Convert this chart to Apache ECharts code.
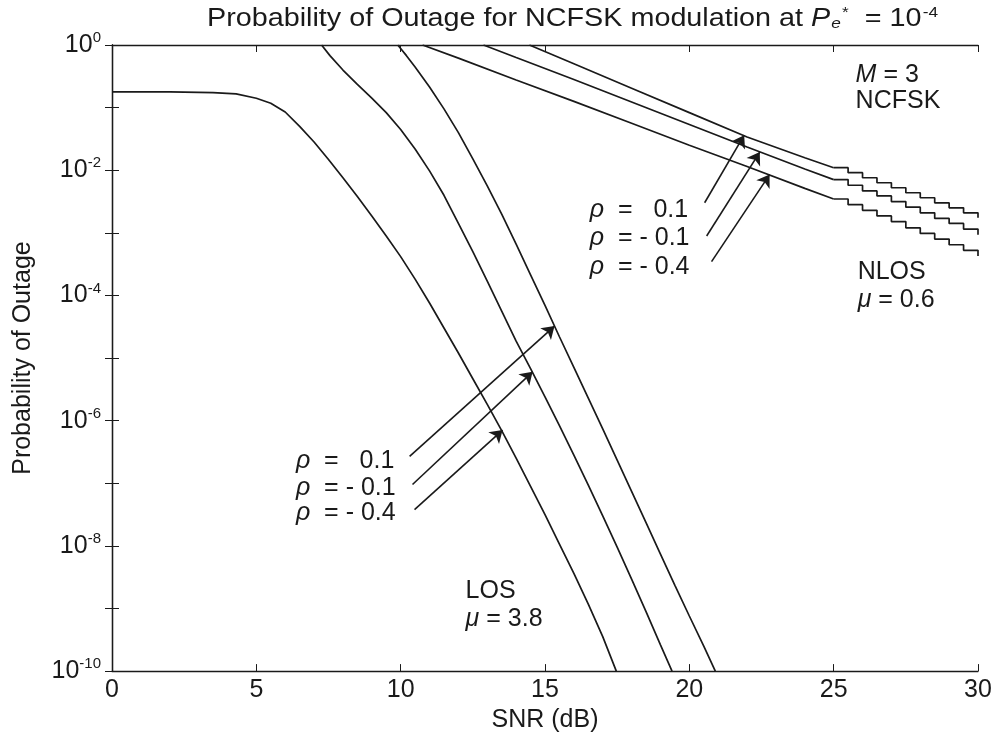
<!DOCTYPE html>
<html>
<head>
<meta charset="utf-8">
<script src="https://cdn.jsdelivr.net/npm/echarts@6/dist/echarts.min.js"></script>
<style>
  html, body { margin: 0; padding: 0; background: #ffffff; }
  #chart { width: 998px; height: 738px; }
</style>
</head>
<body>
<div id="chart"></div>
<script>
// SNR axis ticks (dB) and probability decades
const snrTicks = [0, 5, 10, 15, 20, 25, 30];
const decadeExponents = [0, -1, -2, -3, -4, -5, -6, -7, -8, -9, -10];

// LOS, mu = 3.8 : SNR (dB) and log10 of outage probability
const losSnrRhoNeg04 = [0, 2, 3.5, 4.3, 5, 5.5, 6, 6.5, 7, 7.5, 8, 8.5, 9, 9.5, 10, 10.5, 11, 11.5, 12, 12.5, 13, 13.5, 14, 14.5, 15, 15.5, 16, 16.5, 17, 17.47];
const losLogRhoNeg04 = [-0.75, -0.75, -0.76, -0.78, -0.85, -0.93, -1.07, -1.30, -1.55, -1.83, -2.12, -2.42, -2.73, -3.05, -3.38, -3.74, -4.12, -4.52, -4.92, -5.33, -5.74, -6.16, -6.60, -7.05, -7.50, -7.97, -8.44, -8.93, -9.45, -10.0];

const losSnrRhoNeg01 = [7.26, 7.55, 8, 8.5, 9, 9.5, 10, 10.5, 11, 11.5, 12, 12.5, 13, 13.5, 14, 14.5, 15, 15.5, 16, 16.5, 17, 17.5, 18, 18.5, 19, 19.4];
const losLogRhoNeg01 = [0, -0.17, -0.40, -0.63, -0.85, -1.08, -1.35, -1.66, -2.01, -2.40, -2.85, -3.30, -3.77, -4.25, -4.73, -5.17, -5.62, -6.08, -6.55, -7.03, -7.52, -8.02, -8.53, -9.05, -9.58, -10.0];

const losSnrRhoPos01 = [9.9, 10.2, 10.5, 11, 11.5, 12, 12.5, 13, 13.5, 14, 14.5, 15, 15.5, 16, 16.5, 17, 17.5, 18, 18.5, 19, 19.5, 20, 20.5, 20.9];
const losLogRhoPos01 = [0, -0.17, -0.35, -0.67, -1.02, -1.40, -1.82, -2.25, -2.70, -3.18, -3.67, -4.16, -4.66, -5.15, -5.64, -6.13, -6.63, -7.13, -7.63, -8.13, -8.63, -9.12, -9.60, -10.0];

// NLOS, mu = 0.6 : smooth part up to 25 dB, then the stepped tail
const nlosSnrRhoPos01 = [14.46, 16, 18, 20, 22, 24, 25];
const nlosLogRhoPos01 = [0, -0.30, -0.69, -1.08, -1.47, -1.80, -1.96];
const nlosSnrRhoNeg01 = [12.87, 14, 16, 18, 20, 22, 24, 25];
const nlosLogRhoNeg01 = [0, -0.20, -0.55, -0.91, -1.27, -1.63, -1.98, -2.15];
const nlosSnrRhoNeg04 = [10.76, 12, 14, 16, 18, 20, 22, 24, 25];
const nlosLogRhoNeg04 = [0, -0.21, -0.56, -0.90, -1.25, -1.60, -1.94, -2.29, -2.46];

const nlosTailSnr = [25, 25.5, 26, 26.5, 27, 27.5, 28, 28.5, 29, 29.5, 30];
const nlosTailLogRhoPos01 = [-1.96, -2.04, -2.12, -2.20, -2.28, -2.36, -2.44, -2.52, -2.60, -2.68, -2.76];
const nlosTailLogRhoNeg01 = [-2.15, -2.24, -2.33, -2.41, -2.50, -2.59, -2.68, -2.77, -2.85, -2.94, -3.03];
const nlosTailLogRhoNeg04 = [-2.46, -2.55, -2.64, -2.73, -2.82, -2.92, -3.01, -3.10, -3.19, -3.28, -3.37];

// Annotation text and arrows, placed in data space (SNR dB, log10 P)
const noteTexts = [
  { t: '{i|M} = 3', x: 25.76, y: -0.48 },
  { t: 'NCFSK', x: 25.76, y: -0.90 },
  { t: '{i|ρ}  =   0.1', x: 16.55, y: -2.63 },
  { t: '{i|ρ}  = - 0.1', x: 16.55, y: -3.09 },
  { t: '{i|ρ}  = - 0.4', x: 16.55, y: -3.54 },
  { t: 'NLOS', x: 25.83, y: -3.62 },
  { t: '{i|μ} = 0.6', x: 25.83, y: -4.07 },
  { t: '{i|ρ}  =   0.1', x: 6.37, y: -6.65 },
  { t: '{i|ρ}  = - 0.1', x: 6.37, y: -7.07 },
  { t: '{i|ρ}  = - 0.4', x: 6.37, y: -7.47 },
  { t: 'LOS', x: 12.25, y: -8.72 },
  { t: '{i|μ} = 3.8', x: 12.25, y: -9.17 }
];
const arrowFrom = [[20.53, -2.52], [20.60, -3.05], [20.77, -3.46], [10.31, -6.57], [10.41, -7.02], [10.48, -7.42]];
const arrowTo = [[21.90, -1.44], [22.44, -1.71], [22.78, -2.07], [15.33, -4.49], [14.57, -5.22], [13.53, -6.15]];

const chartTitle = 'Probability of Outage for NCFSK modulation at {i|P}{sub|e}{sup|*}  = 10{sup|-4}';

const FONT = '"Liberation Sans", Arial, Helvetica, sans-serif';
const INK = '#1a1a1a';
const FS = 25;

function pts(xs, logs) {
  return xs.map((x, i) => [x, Math.pow(10, logs[i])]);
}

function curve(name, xs, logs, step) {
  return {
    name: name,
    type: 'line',
    xAxisIndex: 0,
    yAxisIndex: 0,
    data: pts(xs, logs),
    step: step || false,
    showSymbol: false,
    smooth: false,
    clip: true,
    silent: true,
    lineStyle: { color: INK, width: 1.7 },
    z: 3
  };
}

const series = [
  curve('LOS rho=-0.4', losSnrRhoNeg04, losLogRhoNeg04),
  curve('LOS rho=-0.1', losSnrRhoNeg01, losLogRhoNeg01),
  curve('LOS rho=0.1', losSnrRhoPos01, losLogRhoPos01),
  curve('NLOS rho=0.1', nlosSnrRhoPos01, nlosLogRhoPos01),
  curve('NLOS rho=-0.1', nlosSnrRhoNeg01, nlosLogRhoNeg01),
  curve('NLOS rho=-0.4', nlosSnrRhoNeg04, nlosLogRhoNeg04),
  curve('NLOS rho=0.1 tail', nlosTailSnr, nlosTailLogRhoPos01, 'end'),
  curve('NLOS rho=-0.1 tail', nlosTailSnr, nlosTailLogRhoNeg01, 'end'),
  curve('NLOS rho=-0.4 tail', nlosTailSnr, nlosTailLogRhoNeg04, 'end')
];

// arrows as mark lines on the first curve
series[0].markLine = {
  silent: true,
  symbol: ['none', 'arrow'],
  symbolSize: 12,
  label: { show: false },
  lineStyle: { color: INK, width: 1.6, type: 'solid' },
  data: arrowFrom.map((a, i) => [
    { coord: [a[0], Math.pow(10, a[1])] },
    { coord: [arrowTo[i][0], Math.pow(10, arrowTo[i][1])] }
  ])
};

const axisText = { fontFamily: FONT, fontSize: FS, color: INK };
const frameLine = { show: true, lineStyle: { color: INK, width: 1.3 } };
const innerTick = { show: true, inside: true, length: 7, lineStyle: { color: INK, width: 1 } };

function yLabel(v) {
  const e = Math.round(Math.log10(v));
  if (e % 2 !== 0) return '';
  return '10{s|' + e + '}';
}

const option = {
  backgroundColor: '#ffffff',
  animation: false,
  grid: { left: 112, right: 20, top: 45, bottom: 66, containLabel: false },
  xAxis: [
    {
      type: 'value', min: snrTicks[0], max: snrTicks[snrTicks.length - 1], interval: 5,
      name: 'SNR (dB)', nameLocation: 'middle', nameGap: 33,
      nameTextStyle: axisText,
      axisLine: frameLine, axisTick: innerTick, splitLine: { show: false },
      axisLabel: Object.assign({ margin: 7 }, axisText)
    },
    {
      type: 'value', position: 'top', min: snrTicks[0], max: snrTicks[snrTicks.length - 1], interval: 5,
      axisLine: frameLine, axisTick: innerTick, splitLine: { show: false },
      axisLabel: { show: false }
    }
  ],
  yAxis: [
    {
      type: 'log', logBase: 10,
      min: Math.pow(10, decadeExponents[decadeExponents.length - 1]),
      max: Math.pow(10, decadeExponents[0]),
      interval: 1,
      name: 'Probability of Outage', nameLocation: 'middle', nameGap: 76,
      nameTextStyle: axisText,
      axisLine: frameLine, axisTick: innerTick, splitLine: { show: false }, minorTick: { show: false },
      axisLabel: Object.assign({
        margin: 11,
        formatter: yLabel,
        rich: { s: { fontFamily: FONT, fontSize: 15, color: INK, padding: [0, 0, 14, 0] } }
      }, axisText)
    },
    {
      type: 'log', logBase: 10, position: 'right',
      min: Math.pow(10, decadeExponents[decadeExponents.length - 1]),
      max: Math.pow(10, decadeExponents[0]),
      interval: 1,
      axisLine: frameLine, axisTick: innerTick, splitLine: { show: false },
      axisLabel: { show: false }
    }
  ],
  series: series
};

const chart = echarts.init(document.getElementById('chart'), null, { renderer: 'canvas' });
chart.setOption(option);

// title: slightly widened lettering, drawn as a text element
const graphics = [{
  type: 'text',
  x: 207, y: 19,
  scaleX: 1.15,
  silent: true,
  style: {
    text: chartTitle,
    fontFamily: FONT, fontSize: 25, fill: INK,
    verticalAlign: 'middle', align: 'left',
    rich: {
      i: { fontFamily: FONT, fontSize: 25, fontStyle: 'italic', fill: INK },
      sub: { fontFamily: FONT, fontSize: 15, fontStyle: 'italic', fill: INK, padding: [10, 0, 0, 1] },
      sup: { fontFamily: FONT, fontSize: 15, fill: INK, padding: [0, 0, 12, 1] }
    }
  },
  z: 10
}];

// annotation text placed through the axes' own coordinate conversion
noteTexts.forEach(n => {
  const p = chart.convertToPixel({ xAxisIndex: 0, yAxisIndex: 0 }, [n.x, Math.pow(10, n.y)]);
  graphics.push({
    type: 'text',
    x: p[0], y: p[1],
    silent: true,
    style: {
      text: n.t,
      fontFamily: FONT, fontSize: FS, fill: INK,
      verticalAlign: 'middle', align: 'left',
      rich: {
        i: { fontFamily: FONT, fontSize: FS, fontStyle: 'italic', fill: INK }
      }
    },
    z: 10
  });
});
chart.setOption({ graphic: graphics });
</script>
</body>
</html>
